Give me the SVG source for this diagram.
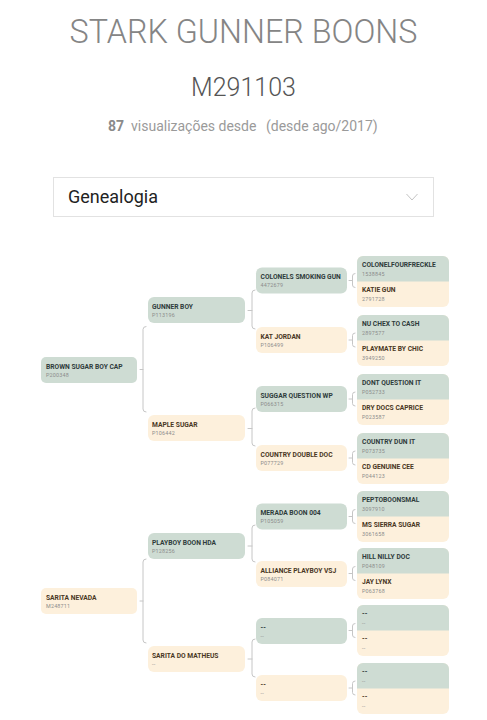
<svg xmlns="http://www.w3.org/2000/svg" width="487" height="720" viewBox="0 0 487 720">
<style>
.hd{font-family:Roboto,"Liberation Sans",sans-serif;text-anchor:middle}
.nm{font-family:Roboto,"Liberation Sans",sans-serif;font-weight:700;font-size:6.7px}
.id{font-family:Roboto,"Liberation Sans",sans-serif;font-size:5.4px;fill:#8c8c8c;letter-spacing:0.2px}
.g{fill:#cedcd3}
.c{fill:#fdf0dc}
.gn{fill:#2f3b3b}
.cn{fill:#4a3724}
.br{fill:none;stroke:#c6c6c6;stroke-width:1;stroke-linecap:round}
</style>
<rect width="487" height="720" fill="#ffffff"/>
<g id="header">
<text class="hd" x="243.5" y="43" font-size="32.3" font-weight="300" fill="#858585">STARK GUNNER BOONS</text>
<text class="hd" x="243.5" y="96" font-size="25" font-weight="300" fill="#555">M291103</text>
<text x="108" y="131" font-family="Roboto,'Liberation Sans',sans-serif" font-size="14" font-weight="700" fill="#8a8a8a">87</text>
<text x="131" y="131" font-family="Roboto,'Liberation Sans',sans-serif" font-size="14" fill="#9a9a9a">visualizações desde</text>
<text x="266" y="131" font-family="Roboto,'Liberation Sans',sans-serif" font-size="14" fill="#9a9a9a">(desde ago/2017)</text>
</g>
<g id="dropdown">
<rect x="53.5" y="177.5" width="380" height="39" fill="#fff" stroke="#e2e2e2"/>
<text x="68" y="203" font-family="Roboto,'Liberation Sans',sans-serif" font-size="18" fill="#222">Genealogia</text>
<polyline points="406.5,194 412,200 417.5,194" fill="none" stroke="#c4c4c4" stroke-width="1"/>
</g>
<g id="connectors">
<path class="br" d="M146,326.5 q-3,0 -3,3 V409 q0,3 3,3 M140,369.5 H143"/>
<path class="br" d="M146,559 q-3,0 -3,3 V640 q0,3 3,3 M140,601 H143"/>
<path class="br" d="M255,290 q-3,0 -3,3 V326 q0,3 3,3 M248,310.5 H252"/>
<path class="br" d="M255,408 q-3,0 -3,3 V443 q0,3 3,3 M248,428.5 H252"/>
<path class="br" d="M255,525 q-3,0 -3,3 V559 q0,3 3,3 M248,546 H252"/>
<path class="br" d="M255,639 q-3,0 -3,3 V674 q0,3 3,3 M248,659 H252"/>
<path class="br" d="M355,273.5 q-2.5,0 -2.5,2.5 V285 q0,2.5 2.5,2.5 M349,280.5 H352.5"/>
<path class="br" d="M355,333 q-2.5,0 -2.5,2.5 V344.5 q0,2.5 2.5,2.5 M349,340 H352.5"/>
<path class="br" d="M355,392 q-2.5,0 -2.5,2.5 V403.5 q0,2.5 2.5,2.5 M349,399 H352.5"/>
<path class="br" d="M355,451 q-2.5,0 -2.5,2.5 V462.5 q0,2.5 2.5,2.5 M349,458 H352.5"/>
<path class="br" d="M355,509.5 q-2.5,0 -2.5,2.5 V521 q0,2.5 2.5,2.5 M349,516.5 H352.5"/>
<path class="br" d="M355,566.5 q-2.5,0 -2.5,2.5 V578 q0,2.5 2.5,2.5 M349,573.5 H352.5"/>
<path class="br" d="M355,623.5 q-2.5,0 -2.5,2.5 V635 q0,2.5 2.5,2.5 M349,630.5 H352.5"/>
<path class="br" d="M355,681 q-2.5,0 -2.5,2.5 V692.5 q0,2.5 2.5,2.5 M349,688 H352.5"/>
</g>
<!-- generation 0 -->
<g id="n-brown-sugar-boy-cap"><rect class="g" x="41" y="357" width="96" height="26" rx="5"/><text class="nm gn" x="46" y="369">BROWN SUGAR BOY CAP</text><text class="id" x="46" y="377">P200348</text></g>
<g id="n-sarita-nevada"><rect class="c" x="41" y="588" width="96" height="26" rx="5"/><text class="nm cn" x="46" y="600">SARITA NEVADA</text><text class="id" x="46" y="608">M248711</text></g>
<!-- generation 1 -->
<g id="n-gunner-boy"><rect class="g" x="148" y="297" width="97" height="26" rx="6"/><text class="nm gn" x="152" y="309">GUNNER BOY</text><text class="id" x="152" y="317">P113196</text></g>
<g id="n-maple-sugar"><rect class="c" x="148" y="415" width="97" height="26" rx="6"/><text class="nm cn" x="152" y="427">MAPLE SUGAR</text><text class="id" x="152" y="435">P106442</text></g>
<g id="n-playboy-boon-hda"><rect class="g" x="148" y="533" width="97" height="26" rx="6"/><text class="nm gn" x="152" y="545">PLAYBOY BOON HDA</text><text class="id" x="152" y="553">P128256</text></g>
<g id="n-sarita-do-matheus"><rect class="c" x="148" y="646" width="97" height="26" rx="6"/><text class="nm cn" x="152" y="658">SARITA DO MATHEUS</text><text class="id" x="152" y="666">--</text></g>
<!-- generation 2 -->
<g id="n-colonels-smoking-gun"><rect class="g" x="256" y="267.5" width="91" height="26" rx="6"/><text class="nm gn" x="260.5" y="279">COLONELS SMOKING GUN</text><text class="id" x="260.5" y="287">4472679</text></g>
<g id="n-kat-jordan"><rect class="c" x="256" y="327" width="91" height="26" rx="6"/><text class="nm cn" x="260.5" y="338.5">KAT JORDAN</text><text class="id" x="260.5" y="346.5">P106499</text></g>
<g id="n-suggar-question-wp"><rect class="g" x="256" y="386" width="91" height="26" rx="6"/><text class="nm gn" x="260.5" y="397.5">SUGGAR QUESTION WP</text><text class="id" x="260.5" y="405.5">P066315</text></g>
<g id="n-country-double-doc"><rect class="c" x="256" y="445" width="91" height="26" rx="6"/><text class="nm cn" x="260.5" y="456.5">COUNTRY DOUBLE DOC</text><text class="id" x="260.5" y="464.5">P077729</text></g>
<g id="n-merada-boon-004"><rect class="g" x="256" y="503.5" width="91" height="26" rx="6"/><text class="nm gn" x="260.5" y="515">MERADA BOON 004</text><text class="id" x="260.5" y="523">P105059</text></g>
<g id="n-alliance-playboy-vsj"><rect class="c" x="256" y="561" width="91" height="26" rx="6"/><text class="nm cn" x="260.5" y="572.5">ALLIANCE PLAYBOY VSJ</text><text class="id" x="260.5" y="580.5">P084071</text></g>
<g id="n-unknown-sire"><rect class="g" x="256" y="618" width="91" height="26" rx="6"/><text class="nm gn" x="260.5" y="629.5">--</text><text class="id" x="260.5" y="637.5">--</text></g>
<g id="n-unknown-dam"><rect class="c" x="256" y="675" width="91" height="26" rx="6"/><text class="nm cn" x="260.5" y="686.5">--</text><text class="id" x="260.5" y="694.5">--</text></g>
<!-- generation 3 -->
<g id="n-colonelfourfreckle-katie-gun"><rect class="c" x="357" y="256" width="92" height="51" rx="6"/><path class="g" d="M357,262 a6,6 0 0 1 6,-6 h80 a6,6 0 0 1 6,6 v19.5 h-92 z"/><text class="nm gn" x="362" y="266.5">COLONELFOURFRECKLE</text><text class="id" x="362" y="275.5">1538845</text><text class="nm cn" x="362" y="292">KATIE GUN</text><text class="id" x="362" y="301">2791728</text></g>
<g id="n-nu-chex-playmate"><rect class="c" x="357" y="315" width="92" height="51" rx="6"/><path class="g" d="M357,321 a6,6 0 0 1 6,-6 h80 a6,6 0 0 1 6,6 v19.5 h-92 z"/><text class="nm gn" x="362" y="325.5">NU CHEX TO CASH</text><text class="id" x="362" y="334.5">2897577</text><text class="nm cn" x="362" y="351">PLAYMATE BY CHIC</text><text class="id" x="362" y="360">3949250</text></g>
<g id="n-dont-question-dry-docs"><rect class="c" x="357" y="374" width="92" height="51" rx="6"/><path class="g" d="M357,380 a6,6 0 0 1 6,-6 h80 a6,6 0 0 1 6,6 v19.5 h-92 z"/><text class="nm gn" x="362" y="384.5">DONT QUESTION IT</text><text class="id" x="362" y="393.5">P052733</text><text class="nm cn" x="362" y="410">DRY DOCS CAPRICE</text><text class="id" x="362" y="419">P023587</text></g>
<g id="n-country-dun-cd-genuine"><rect class="c" x="357" y="433" width="92" height="51" rx="6"/><path class="g" d="M357,439 a6,6 0 0 1 6,-6 h80 a6,6 0 0 1 6,6 v19.5 h-92 z"/><text class="nm gn" x="362" y="443.5">COUNTRY DUN IT</text><text class="id" x="362" y="452.5">P073735</text><text class="nm cn" x="362" y="469">CD GENUINE CEE</text><text class="id" x="362" y="478">P044123</text></g>
<g id="n-peptoboonsmal-ms-sierra"><rect class="c" x="357" y="491" width="92" height="51" rx="6"/><path class="g" d="M357,497 a6,6 0 0 1 6,-6 h80 a6,6 0 0 1 6,6 v19.5 h-92 z"/><text class="nm gn" x="362" y="501.5">PEPTOBOONSMAL</text><text class="id" x="362" y="510.5">3097910</text><text class="nm cn" x="362" y="527">MS SIERRA SUGAR</text><text class="id" x="362" y="536">3061658</text></g>
<g id="n-hill-nilly-jay-lynx"><rect class="c" x="357" y="548" width="92" height="51" rx="6"/><path class="g" d="M357,554 a6,6 0 0 1 6,-6 h80 a6,6 0 0 1 6,6 v19.5 h-92 z"/><text class="nm gn" x="362" y="558.5">HILL NILLY DOC</text><text class="id" x="362" y="567.5">P048109</text><text class="nm cn" x="362" y="584">JAY LYNX</text><text class="id" x="362" y="593">P063768</text></g>
<g id="n-unknown-pair-1"><rect class="c" x="357" y="605" width="92" height="51" rx="6"/><path class="g" d="M357,611 a6,6 0 0 1 6,-6 h80 a6,6 0 0 1 6,6 v19.5 h-92 z"/><text class="nm gn" x="362" y="615.5">--</text><text class="id" x="362" y="624.5">--</text><text class="nm cn" x="362" y="641">--</text><text class="id" x="362" y="650">--</text></g>
<g id="n-unknown-pair-2"><rect class="c" x="357" y="663" width="92" height="51" rx="6"/><path class="g" d="M357,669 a6,6 0 0 1 6,-6 h80 a6,6 0 0 1 6,6 v19.5 h-92 z"/><text class="nm gn" x="362" y="673.5">--</text><text class="id" x="362" y="682.5">--</text><text class="nm cn" x="362" y="699">--</text><text class="id" x="362" y="708">--</text></g>
</svg>
